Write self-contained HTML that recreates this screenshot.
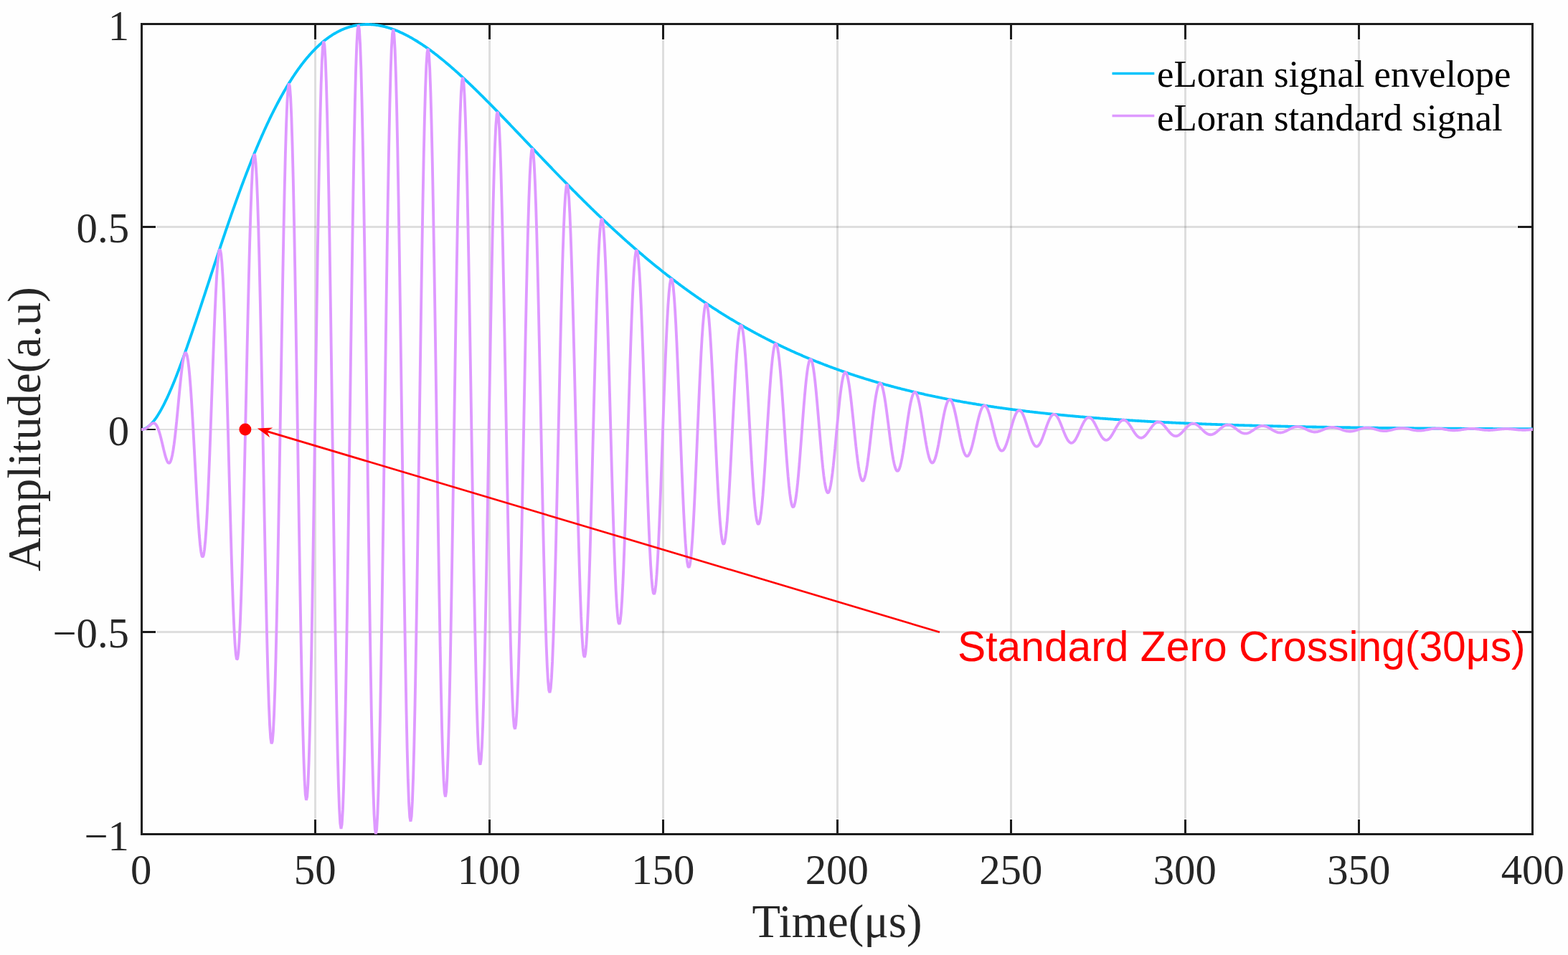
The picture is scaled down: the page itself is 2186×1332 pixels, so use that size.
<!DOCTYPE html>
<html lang="en"><head><meta charset="utf-8"><title>eLoran standard signal</title>
<style>html,body{margin:0;padding:0;background:#fff}body{width:2186px;height:1332px;overflow:hidden}svg{display:block}.s{font-family:"Liberation Serif",serif}.a{font-family:"Liberation Sans",sans-serif}</style></head><body>
<svg width="2186" height="1332" viewBox="0 0 2186 1332">
<rect width="2186" height="1332" fill="#fefefe"/>
<path d="M439.5,56V1142M682.5,56V1142M924.5,56V1142M1167.5,56V1142M1409.5,56V1142M1652.5,56V1142M1894.5,56V1142" stroke="#262626" stroke-opacity="0.15" stroke-width="3.0" fill="none"/>
<path d="M218,316.5H2115" stroke="#262626" stroke-opacity="0.15" stroke-width="3.0" fill="none"/>
<path d="M218,599.0H2115" stroke="#262626" stroke-opacity="0.15" stroke-width="2.0" fill="none"/>
<path d="M218,881.5H2115" stroke="#262626" stroke-opacity="0.15" stroke-width="3.0" fill="none"/>
<path d="M439.5,1143V1163.5M439.5,33.5V55M682.5,1143V1163.5M682.5,33.5V55M924.5,1143V1163.5M924.5,33.5V55M1167.5,1143V1163.5M1167.5,33.5V55M1409.5,1143V1163.5M1409.5,33.5V55M1652.5,1143V1163.5M1652.5,33.5V55M1894.5,1143V1163.5M1894.5,33.5V55" stroke="#1c1c1c" stroke-width="3.0" fill="none"/>
<path d="M197.5,316.5H217M2116,316.5H2136.5" stroke="#1c1c1c" stroke-width="3.0" fill="none"/>
<path d="M197.5,599.0H217M2116,599.0H2136.5" stroke="#1c1c1c" stroke-width="2.0" fill="none"/>
<path d="M197.5,881.5H217M2116,881.5H2136.5" stroke="#1c1c1c" stroke-width="3.0" fill="none"/>
<rect x="197.5" y="33.5" width="1939.0" height="1130.0" fill="none" stroke="#1c1c1c" stroke-width="3.0"/>
<clipPath id="c"><rect x="197" y="32" width="1940" height="1133"/></clipPath>
<g clip-path="url(#c)" fill="none" stroke-width="3.85" stroke-linejoin="bevel" stroke-linecap="butt">
<path d="M194.42,599L196.6,599L197.81,598.94L199.03,598.76L200.24,598.46L201.45,598.04L202.66,597.51L203.88,596.88L205.09,596.13L206.3,595.28L207.51,594.33L208.72,593.28L209.94,592.13L211.15,590.89L212.36,589.56L213.57,588.13L214.79,586.62L216,585.02L217.21,583.34L218.42,581.58L219.64,579.74L220.85,577.82L222.06,575.83L223.27,573.76L224.49,571.63L225.7,569.42L226.91,567.15L228.12,564.82L229.34,562.42L230.55,559.96L231.76,557.45L232.97,554.87L234.19,552.24L235.4,549.56L236.61,546.82L237.82,544.04L239.04,541.2L240.25,538.32L241.46,535.4L242.67,532.43L243.89,529.41L245.1,526.36L246.31,523.27L247.52,520.14L248.74,516.97L249.95,513.77L251.16,510.53L252.38,507.27L253.59,503.97L254.8,500.64L256.01,497.28L257.22,493.9L258.44,490.49L259.65,487.06L260.86,483.61L262.07,480.13L263.29,476.63L264.5,473.11L265.71,469.57L266.92,466.02L268.14,462.45L269.35,458.86L270.56,455.26L271.77,451.65L272.99,448.02L274.2,444.39L275.41,440.74L276.62,437.08L277.84,433.42L279.05,429.75L280.26,426.07L281.48,422.38L282.69,418.69L283.9,415L285.11,411.3L286.32,407.6L287.54,403.9L288.75,400.2L289.96,396.49L291.17,392.79L292.39,389.09L293.6,385.39L294.81,381.7L296.02,378.01L297.24,374.32L298.45,370.64L299.66,366.96L300.88,363.29L302.09,359.62L303.3,355.96L304.51,352.31L305.72,348.67L306.94,345.04L308.15,341.42L309.36,337.8L310.57,334.2L311.79,330.61L313,327.03L314.21,323.46L315.42,319.91L316.64,316.36L317.85,312.83L319.06,309.32L320.27,305.82L321.49,302.33L322.7,298.86L323.91,295.41L325.12,291.97L326.34,288.54L327.55,285.14L328.76,281.75L329.98,278.38L331.19,275.02L332.4,271.69L333.61,268.37L334.82,265.07L336.04,261.79L337.25,258.53L338.46,255.29L339.67,252.06L340.89,248.86L342.1,245.68L343.31,242.52L344.52,239.38L345.74,236.26L346.95,233.17L348.16,230.09L349.38,227.04L350.59,224L351.8,220.99L353.01,218.01L354.23,215.04L355.44,212.1L356.65,209.18L357.86,206.29L359.07,203.41L360.29,200.56L361.5,197.74L362.71,194.93L363.92,192.16L365.14,189.4L366.35,186.67L367.56,183.96L368.77,181.28L369.99,178.62L371.2,175.99L372.41,173.38L373.62,170.8L374.84,168.24L376.05,165.7L377.26,163.19L378.48,160.71L379.69,158.25L380.9,155.81L382.11,153.4L383.32,151.02L384.54,148.66L385.75,146.32L386.96,144.02L388.17,141.73L389.39,139.47L390.6,137.24L391.81,135.03L393.02,132.85L394.24,130.7L395.45,128.57L396.66,126.46L397.88,124.38L399.09,122.33L400.3,120.3L401.51,118.29L402.72,116.31L403.94,114.36L405.15,112.43L406.36,110.53L407.57,108.65L408.79,106.8L410,104.98L411.21,103.17L412.42,101.4L413.64,99.65L414.85,97.92L416.06,96.22L417.27,94.55L418.49,92.9L419.7,91.27L420.91,89.67L422.12,88.09L423.34,86.54L424.55,85.02L425.76,83.51L426.97,82.04L428.19,80.58L429.4,79.16L430.61,77.75L431.82,76.37L433.04,75.02L434.25,73.68L435.46,72.38L436.67,71.09L437.89,69.83L439.1,68.6L440.31,67.39L441.52,66.2L442.74,65.03L443.95,63.89L445.16,62.77L446.38,61.68L447.59,60.61L448.8,59.56L450.01,58.53L451.22,57.53L452.44,56.55L453.65,55.59L454.86,54.65L456.07,53.74L457.29,52.85L458.5,51.98L459.71,51.14L460.92,50.31L462.14,49.51L463.35,48.73L464.56,47.97L465.77,47.23L466.99,46.52L468.2,45.82L469.41,45.15L470.62,44.5L471.84,43.87L473.05,43.26L474.26,42.67L475.48,42.1L476.69,41.55L477.9,41.02L479.11,40.51L480.32,40.03L481.54,39.56L482.75,39.11L483.96,38.68L485.17,38.27L486.39,37.88L487.6,37.51L488.81,37.16L490.02,36.83L491.24,36.52L492.45,36.23L493.66,35.95L494.88,35.7L496.09,35.46L497.3,35.24L498.51,35.04L499.73,34.86L500.94,34.69L502.15,34.55L503.36,34.42L504.57,34.31L505.79,34.21L507,34.14L508.21,34.08L509.42,34.03L510.64,34.01L511.85,34L513.06,34.01L514.27,34.03L515.49,34.07L516.7,34.13L517.91,34.21L519.12,34.3L520.34,34.4L521.55,34.52L522.76,34.66L523.98,34.81L525.19,34.98L526.4,35.17L527.61,35.37L528.82,35.58L530.04,35.81L531.25,36.05L532.46,36.31L533.67,36.58L534.89,36.87L536.1,37.17L537.31,37.49L538.52,37.82L539.74,38.16L540.95,38.52L542.16,38.89L543.38,39.27L544.59,39.67L545.8,40.08L547.01,40.51L548.23,40.95L549.44,41.4L550.65,41.86L551.86,42.34L553.07,42.82L554.29,43.33L555.5,43.84L556.71,44.36L557.92,44.9L559.14,45.45L560.35,46.01L561.56,46.59L562.77,47.17L563.99,47.77L565.2,48.37L566.41,48.99L567.62,49.62L568.84,50.26L570.05,50.91L571.26,51.58L572.48,52.25L573.69,52.93L574.9,53.63L576.11,54.33L577.32,55.05L578.54,55.77L579.75,56.51L580.96,57.25L582.17,58L583.39,58.77L584.6,59.54L585.81,60.32L587.02,61.12L588.24,61.92L589.45,62.73L590.66,63.55L591.88,64.38L593.09,65.21L594.3,66.06L595.51,66.91L596.72,67.77L597.94,68.65L599.15,69.52L600.36,70.41L601.57,71.31L602.79,72.21L604,73.12L605.21,74.04L606.42,74.97L607.64,75.9L608.85,76.84L610.06,77.79L611.27,78.75L612.49,79.71L613.7,80.68L614.91,81.66L616.12,82.64L617.34,83.63L618.55,84.63L619.76,85.63L620.97,86.64L622.19,87.66L623.4,88.68L624.61,89.71L625.82,90.75L627.04,91.79L628.25,92.84L629.46,93.89L630.67,94.95L631.89,96.01L633.1,97.08L634.31,98.16L635.52,99.24L636.74,100.32L637.95,101.41L639.16,102.51L640.38,103.61L641.59,104.72L642.8,105.83L644.01,106.94L645.22,108.06L646.44,109.19L647.65,110.32L648.86,111.45L650.07,112.59L651.29,113.73L652.5,114.88L653.71,116.03L654.92,117.19L656.14,118.34L657.35,119.51L658.56,120.67L659.77,121.84L660.99,123.02L662.2,124.2L663.41,125.38L664.62,126.56L665.84,127.75L667.05,128.94L668.26,130.14L669.47,131.33L670.69,132.53L671.9,133.74L673.11,134.94L674.32,136.15L675.54,137.37L676.75,138.58L677.96,139.8L679.17,141.02L680.39,142.24L681.6,143.47L682.81,144.69L684.02,145.92L685.24,147.16L686.45,148.39L687.66,149.63L688.88,150.87L690.09,152.11L691.3,153.35L692.51,154.59L693.72,155.84L694.94,157.09L696.15,158.34L697.36,159.59L698.57,160.84L699.79,162.1L701,163.35L702.21,164.61L703.42,165.87L704.64,167.13L705.85,168.39L707.06,169.65L708.27,170.92L709.49,172.18L710.7,173.45L711.91,174.71L713.12,175.98L714.34,177.25L715.55,178.52L716.76,179.79L717.98,181.06L719.19,182.33L720.4,183.6L721.61,184.87L722.82,186.15L724.04,187.42L725.25,188.69L726.46,189.97L727.67,191.24L728.89,192.52L730.1,193.79L731.31,195.07L732.52,196.34L733.74,197.62L734.95,198.9L736.16,200.17L737.38,201.45L738.59,202.72L739.8,204L741.01,205.27L742.23,206.55L743.44,207.82L744.65,209.09L745.86,210.37L747.07,211.64L748.29,212.92L749.5,214.19L750.71,215.46L751.92,216.73L753.14,218L754.35,219.27L755.56,220.54L756.77,221.81L757.99,223.08L759.2,224.35L760.41,225.61L761.62,226.88L762.84,228.14L764.05,229.41L765.26,230.67L766.48,231.93L767.69,233.19L768.9,234.45L770.11,235.71L771.32,236.97L772.54,238.23L773.75,239.48L774.96,240.74L776.17,241.99L777.39,243.24L778.6,244.49L779.81,245.74L781.02,246.99L782.24,248.24L783.45,249.48L784.66,250.73L785.88,251.97L787.09,253.21L788.3,254.45L789.51,255.68L790.73,256.92L791.94,258.16L793.15,259.39L794.36,260.62L795.57,261.85L796.79,263.08L798,264.3L799.21,265.53L800.42,266.75L801.64,267.97L802.85,269.19L804.06,270.4L805.27,271.62L806.49,272.83L807.7,274.04L808.91,275.25L810.12,276.46L811.34,277.66L812.55,278.87L813.76,280.07L814.98,281.27L816.19,282.47L817.4,283.66L818.61,284.85L819.82,286.04L821.04,287.23L822.25,288.42L823.46,289.6L824.67,290.79L825.89,291.96L827.1,293.14L828.31,294.32L829.52,295.49L830.74,296.66L831.95,297.83L833.16,299L834.38,300.16L835.59,301.32L836.8,302.48L838.01,303.64L839.23,304.79L840.44,305.94L841.65,307.09L842.86,308.24L844.07,309.38L845.29,310.52L846.5,311.66L847.71,312.8L848.92,313.93L850.14,315.07L851.35,316.2L852.56,317.32L853.77,318.45L854.99,319.57L856.2,320.69L857.41,321.8L858.62,322.92L859.84,324.03L861.05,325.14L862.26,326.24L863.48,327.35L864.69,328.45L865.9,329.54L867.11,330.64L868.32,331.73L869.54,332.82L870.75,333.91L871.96,334.99L873.17,336.07L874.39,337.15L875.6,338.23L876.81,339.3L878.02,340.37L879.24,341.44L880.45,342.5L881.66,343.57L882.88,344.63L884.09,345.68L885.3,346.74L886.51,347.79L887.73,348.84L888.94,349.88L890.15,350.92L891.36,351.96L892.57,353L893.79,354.03L895,355.06L896.21,356.09L897.42,357.12L898.64,358.14L899.85,359.16L901.06,360.17L902.27,361.19L903.49,362.2L904.7,363.21L905.91,364.21L907.12,365.21L908.34,366.21L909.55,367.21L910.76,368.2L911.98,369.19L913.19,370.18L914.4,371.16L915.61,372.14L916.82,373.12L918.04,374.1L919.25,375.07L920.46,376.04L921.67,377.01L922.89,377.97L924.1,378.93L925.31,379.89L926.52,380.84L927.74,381.8L928.95,382.75L930.16,383.69L931.38,384.63L932.59,385.57L933.8,386.51L935.01,387.45L936.23,388.38L937.44,389.3L938.65,390.23L939.86,391.15L941.07,392.07L942.29,392.99L943.5,393.9L944.71,394.81L945.92,395.72L947.14,396.62L948.35,397.52L949.56,398.42L950.77,399.32L951.99,400.21L953.2,401.1L954.41,401.99L955.62,402.87L956.84,403.75L958.05,404.63L959.26,405.5L960.48,406.37L961.69,407.24L962.9,408.11L964.11,408.97L965.32,409.83L966.54,410.69L967.75,411.54L968.96,412.39L970.17,413.24L971.39,414.09L972.6,414.93L973.81,415.77L975.02,416.6L976.24,417.44L977.45,418.27L978.66,419.1L979.88,419.92L981.09,420.74L982.3,421.56L983.51,422.38L984.72,423.19L985.94,424L987.15,424.81L988.36,425.61L989.57,426.41L990.79,427.21L992,428.01L993.21,428.8L994.42,429.59L995.64,430.37L996.85,431.16L998.06,431.94L999.27,432.72L1000.49,433.49L1001.7,434.27L1002.91,435.04L1004.12,435.8L1005.34,436.57L1006.55,437.33L1007.76,438.08L1008.97,438.84L1010.19,439.59L1011.4,440.34L1012.61,441.09L1013.82,441.83L1015.04,442.57L1016.25,443.31L1017.46,444.05L1018.67,444.78L1019.89,445.51L1021.1,446.24L1022.31,446.96L1023.52,447.68L1024.74,448.4L1025.95,449.12L1027.16,449.83L1028.38,450.54L1029.59,451.25L1030.8,451.96L1032.01,452.66L1033.22,453.36L1034.44,454.05L1035.65,454.75L1036.86,455.44L1038.07,456.13L1039.29,456.81L1040.5,457.5L1041.71,458.18L1042.92,458.86L1044.14,459.53L1045.35,460.2L1046.56,460.87L1047.77,461.54L1048.99,462.2L1050.2,462.87L1051.41,463.53L1052.62,464.18L1053.84,464.84L1055.05,465.49L1056.26,466.14L1057.47,466.78L1058.69,467.43L1059.9,468.07L1061.11,468.7L1062.32,469.34L1063.54,469.97L1064.75,470.6L1065.96,471.23L1067.17,471.86L1068.39,472.48L1069.6,473.1L1070.81,473.72L1072.02,474.33L1073.24,474.94L1074.45,475.55L1075.66,476.16L1076.88,476.76L1078.09,477.37L1079.3,477.97L1080.51,478.56L1081.72,479.16L1082.94,479.75L1084.15,480.34L1085.36,480.93L1086.57,481.51L1087.79,482.1L1089,482.68L1090.21,483.25L1091.42,483.83L1092.64,484.4L1093.85,484.97L1095.06,485.54L1096.27,486.1L1097.49,486.67L1098.7,487.23L1099.91,487.79L1101.12,488.34L1102.34,488.89L1103.55,489.45L1104.76,489.99L1105.97,490.54L1107.19,491.08L1108.4,491.63L1109.61,492.17L1110.82,492.7L1112.04,493.24L1113.25,493.77L1114.46,494.3L1115.67,494.83L1116.89,495.35L1118.1,495.87L1119.31,496.4L1120.52,496.91L1121.74,497.43L1122.95,497.94L1124.16,498.46L1125.38,498.97L1126.59,499.47L1127.8,499.98L1129.01,500.48L1130.22,500.98L1131.44,501.48L1132.65,501.97L1133.86,502.47L1135.07,502.96L1136.29,503.45L1137.5,503.94L1138.71,504.42L1139.92,504.91L1141.14,505.39L1142.35,505.86L1143.56,506.34L1144.77,506.82L1145.99,507.29L1147.2,507.76L1148.41,508.23L1149.62,508.69L1150.84,509.16L1152.05,509.62L1153.26,510.08L1154.47,510.54L1155.69,510.99L1156.9,511.44L1158.11,511.9L1159.32,512.34L1160.54,512.79L1161.75,513.24L1162.96,513.68L1164.17,514.12L1165.39,514.56L1166.6,515L1167.81,515.43L1169.02,515.87L1170.24,516.3L1171.45,516.73L1172.66,517.15L1173.88,517.58L1175.09,518L1176.3,518.42L1177.51,518.84L1178.72,519.26L1179.94,519.68L1181.15,520.09L1182.36,520.5L1183.57,520.91L1184.79,521.32L1186,521.73L1187.21,522.13L1188.42,522.53L1189.64,522.93L1190.85,523.33L1192.06,523.73L1193.27,524.12L1194.49,524.51L1195.7,524.91L1196.91,525.29L1198.12,525.68L1199.34,526.07L1200.55,526.45L1201.76,526.83L1202.97,527.21L1204.19,527.59L1205.4,527.97L1206.61,528.34L1207.82,528.72L1209.04,529.09L1210.25,529.46L1211.46,529.82L1212.67,530.19L1213.89,530.55L1215.1,530.92L1216.31,531.28L1217.52,531.64L1218.74,531.99L1219.95,532.35L1221.16,532.7L1222.37,533.06L1223.59,533.41L1224.8,533.76L1226.01,534.1L1227.22,534.45L1228.44,534.79L1229.65,535.13L1230.86,535.47L1232.07,535.81L1233.29,536.15L1234.5,536.49L1235.71,536.82L1236.92,537.15L1238.14,537.48L1239.35,537.81L1240.56,538.14L1241.77,538.47L1242.99,538.79L1244.2,539.11L1245.41,539.43L1246.62,539.75L1247.84,540.07L1249.05,540.39L1250.26,540.7L1251.47,541.02L1252.69,541.33L1253.9,541.64L1255.11,541.95L1256.32,542.26L1257.54,542.56L1258.75,542.87L1259.96,543.17L1261.17,543.47L1262.39,543.77L1263.6,544.07L1264.81,544.37L1266.02,544.66L1267.24,544.96L1268.45,545.25L1269.66,545.54L1270.87,545.83L1272.09,546.12L1273.3,546.4L1274.51,546.69L1275.72,546.97L1276.94,547.26L1278.15,547.54L1279.36,547.82L1280.57,548.1L1281.79,548.37L1283,548.65L1284.21,548.92L1285.42,549.2L1286.64,549.47L1287.85,549.74L1289.06,550.01L1290.27,550.27L1291.49,550.54L1292.7,550.8L1293.91,551.07L1295.12,551.33L1296.34,551.59L1297.55,551.85L1298.76,552.11L1299.97,552.36L1301.19,552.62L1302.4,552.87L1303.61,553.13L1304.82,553.38L1306.04,553.63L1307.25,553.88L1308.46,554.13L1309.67,554.37L1310.89,554.62L1312.1,554.86L1313.31,555.11L1314.52,555.35L1315.74,555.59L1316.95,555.83L1318.16,556.07L1319.37,556.3L1320.59,556.54L1321.8,556.77L1323.01,557.01L1324.22,557.24L1325.44,557.47L1326.65,557.7L1327.86,557.93L1329.07,558.15L1330.29,558.38L1331.5,558.61L1332.71,558.83L1333.92,559.05L1335.14,559.27L1336.35,559.49L1337.56,559.71L1338.77,559.93L1339.99,560.15L1341.2,560.36L1342.41,560.58L1343.62,560.79L1344.84,561.01L1346.05,561.22L1347.26,561.43L1348.47,561.64L1349.69,561.84L1350.9,562.05L1352.11,562.26L1353.32,562.46L1354.54,562.67L1355.75,562.87L1356.96,563.07L1358.17,563.27L1359.39,563.47L1360.6,563.67L1361.81,563.87L1363.02,564.06L1364.24,564.26L1365.45,564.46L1366.66,564.65L1367.87,564.84L1369.09,565.03L1370.3,565.22L1371.51,565.41L1372.72,565.6L1373.94,565.79L1375.15,565.98L1376.36,566.16L1377.57,566.35L1378.79,566.53L1380,566.71L1381.21,566.89L1382.42,567.07L1383.64,567.25L1384.85,567.43L1386.06,567.61L1387.27,567.79L1388.49,567.96L1389.7,568.14L1390.91,568.31L1392.12,568.49L1393.34,568.66L1394.55,568.83L1395.76,569L1396.97,569.17L1398.19,569.34L1399.4,569.51L1400.61,569.67L1401.82,569.84L1403.04,570.01L1404.25,570.17L1405.46,570.33L1406.67,570.5L1407.89,570.66L1409.1,570.82L1410.31,570.98L1411.52,571.14L1412.74,571.3L1413.95,571.45L1415.16,571.61L1416.37,571.77L1417.59,571.92L1418.8,572.07L1420.01,572.23L1421.22,572.38L1422.44,572.53L1423.65,572.68L1424.86,572.83L1426.07,572.98L1427.29,573.13L1428.5,573.28L1429.71,573.43L1430.92,573.57L1432.14,573.72L1433.35,573.86L1434.56,574L1435.77,574.15L1436.99,574.29L1438.2,574.43L1439.41,574.57L1440.62,574.71L1441.84,574.85L1443.05,574.99L1444.26,575.13L1445.47,575.26L1446.69,575.4L1447.9,575.54L1449.11,575.67L1450.32,575.8L1451.54,575.94L1452.75,576.07L1453.96,576.2L1455.17,576.33L1456.39,576.46L1457.6,576.59L1458.81,576.72L1460.02,576.85L1461.24,576.98L1462.45,577.1L1463.66,577.23L1464.87,577.36L1466.09,577.48L1467.3,577.6L1468.51,577.73L1469.72,577.85L1470.94,577.97L1472.15,578.09L1473.36,578.21L1474.57,578.33L1475.79,578.45L1477,578.57L1478.21,578.69L1479.42,578.81L1480.64,578.93L1481.85,579.04L1483.06,579.16L1484.27,579.27L1485.49,579.39L1486.7,579.5L1487.91,579.61L1489.12,579.73L1490.34,579.84L1491.55,579.95L1492.76,580.06L1493.97,580.17L1495.19,580.28L1496.4,580.39L1497.61,580.49L1498.82,580.6L1500.04,580.71L1501.25,580.82L1502.46,580.92L1503.67,581.03L1504.89,581.13L1506.1,581.24L1507.31,581.34L1508.52,581.44L1509.74,581.54L1510.95,581.65L1512.16,581.75L1513.37,581.85L1514.59,581.95L1515.8,582.05L1517.01,582.15L1518.22,582.24L1519.44,582.34L1520.65,582.44L1521.86,582.54L1523.07,582.63L1524.29,582.73L1525.5,582.82L1526.71,582.92L1527.92,583.01L1529.14,583.11L1530.35,583.2L1531.56,583.29L1532.77,583.38L1533.99,583.48L1535.2,583.57L1536.41,583.66L1537.62,583.75L1538.84,583.84L1540.05,583.93L1541.26,584.01L1542.47,584.1L1543.69,584.19L1544.9,584.28L1546.11,584.36L1547.32,584.45L1548.54,584.53L1549.75,584.62L1550.96,584.7L1552.17,584.79L1553.39,584.87L1554.6,584.96L1555.81,585.04L1557.02,585.12L1558.24,585.2L1559.45,585.28L1560.66,585.36L1561.87,585.44L1563.09,585.52L1564.3,585.6L1565.51,585.68L1566.72,585.76L1567.94,585.84L1569.15,585.92L1570.36,586L1571.57,586.07L1572.79,586.15L1574,586.22L1575.21,586.3L1576.42,586.38L1577.64,586.45L1578.85,586.52L1580.06,586.6L1581.27,586.67L1582.49,586.74L1583.7,586.82L1584.91,586.89L1586.12,586.96L1587.34,587.03L1588.55,587.1L1589.76,587.17L1590.97,587.24L1592.19,587.31L1593.4,587.38L1594.61,587.45L1595.82,587.52L1597.04,587.59L1598.25,587.66L1599.46,587.72L1600.67,587.79L1601.89,587.86L1603.1,587.92L1604.31,587.99L1605.52,588.06L1606.74,588.12L1607.95,588.19L1609.16,588.25L1610.37,588.31L1611.59,588.38L1612.8,588.44L1614.01,588.5L1615.22,588.57L1616.44,588.63L1617.65,588.69L1618.86,588.75L1620.07,588.81L1621.29,588.87L1622.5,588.94L1623.71,589L1624.92,589.05L1626.14,589.11L1627.35,589.17L1628.56,589.23L1629.77,589.29L1630.99,589.35L1632.2,589.41L1633.41,589.46L1634.62,589.52L1635.84,589.58L1637.05,589.63L1638.26,589.69L1639.47,589.75L1640.69,589.8L1641.9,589.86L1643.11,589.91L1644.32,589.97L1645.54,590.02L1646.75,590.07L1647.96,590.13L1649.17,590.18L1650.39,590.23L1651.6,590.29L1652.81,590.34L1654.02,590.39L1655.24,590.44L1656.45,590.49L1657.66,590.55L1658.87,590.6L1660.09,590.65L1661.3,590.7L1662.51,590.75L1663.72,590.8L1664.94,590.85L1666.15,590.9L1667.36,590.94L1668.57,590.99L1669.79,591.04L1671,591.09L1672.21,591.14L1673.42,591.18L1674.64,591.23L1675.85,591.28L1677.06,591.32L1678.27,591.37L1679.49,591.42L1680.7,591.46L1681.91,591.51L1683.12,591.55L1684.34,591.6L1685.55,591.64L1686.76,591.69L1687.97,591.73L1689.19,591.78L1690.4,591.82L1691.61,591.86L1692.82,591.91L1694.04,591.95L1695.25,591.99L1696.46,592.03L1697.67,592.08L1698.89,592.12L1700.1,592.16L1701.31,592.2L1702.52,592.24L1703.74,592.28L1704.95,592.32L1706.16,592.37L1707.37,592.41L1708.59,592.45L1709.8,592.49L1711.01,592.52L1712.22,592.56L1713.44,592.6L1714.65,592.64L1715.86,592.68L1717.07,592.72L1718.29,592.76L1719.5,592.8L1720.71,592.83L1721.92,592.87L1723.14,592.91L1724.35,592.94L1725.56,592.98L1726.77,593.02L1727.99,593.05L1729.2,593.09L1730.41,593.13L1731.62,593.16L1732.84,593.2L1734.05,593.23L1735.26,593.27L1736.47,593.3L1737.69,593.34L1738.9,593.37L1740.11,593.41L1741.32,593.44L1742.54,593.48L1743.75,593.51L1744.96,593.54L1746.17,593.58L1747.39,593.61L1748.6,593.64L1749.81,593.68L1751.02,593.71L1752.24,593.74L1753.45,593.77L1754.66,593.8L1755.87,593.84L1757.09,593.87L1758.3,593.9L1759.51,593.93L1760.72,593.96L1761.94,593.99L1763.15,594.02L1764.36,594.05L1765.57,594.08L1766.79,594.11L1768,594.14L1769.21,594.17L1770.42,594.2L1771.64,594.23L1772.85,594.26L1774.06,594.29L1775.27,594.32L1776.49,594.35L1777.7,594.38L1778.91,594.41L1780.12,594.43L1781.34,594.46L1782.55,594.49L1783.76,594.52L1784.97,594.54L1786.19,594.57L1787.4,594.6L1788.61,594.63L1789.82,594.65L1791.04,594.68L1792.25,594.71L1793.46,594.73L1794.67,594.76L1795.89,594.79L1797.1,594.81L1798.31,594.84L1799.52,594.86L1800.74,594.89L1801.95,594.91L1803.16,594.94L1804.37,594.96L1805.59,594.99L1806.8,595.01L1808.01,595.04L1809.22,595.06L1810.44,595.09L1811.65,595.11L1812.86,595.13L1814.07,595.16L1815.29,595.18L1816.5,595.21L1817.71,595.23L1818.92,595.25L1820.14,595.28L1821.35,595.3L1822.56,595.32L1823.77,595.34L1824.99,595.37L1826.2,595.39L1827.41,595.41L1828.62,595.43L1829.84,595.46L1831.05,595.48L1832.26,595.5L1833.47,595.52L1834.69,595.54L1835.9,595.56L1837.11,595.59L1838.32,595.61L1839.54,595.63L1840.75,595.65L1841.96,595.67L1843.17,595.69L1844.39,595.71L1845.6,595.73L1846.81,595.75L1848.02,595.77L1849.24,595.79L1850.45,595.81L1851.66,595.83L1852.87,595.85L1854.09,595.87L1855.3,595.89L1856.51,595.91L1857.72,595.93L1858.94,595.95L1860.15,595.97L1861.36,595.99L1862.57,596L1863.79,596.02L1865,596.04L1866.21,596.06L1867.42,596.08L1868.64,596.1L1869.85,596.11L1871.06,596.13L1872.27,596.15L1873.49,596.17L1874.7,596.19L1875.91,596.2L1877.12,596.22L1878.34,596.24L1879.55,596.26L1880.76,596.27L1881.97,596.29L1883.19,596.31L1884.4,596.32L1885.61,596.34L1886.82,596.36L1888.04,596.37L1889.25,596.39L1890.46,596.41L1891.67,596.42L1892.89,596.44L1894.1,596.45L1895.31,596.47L1896.52,596.49L1897.74,596.5L1898.95,596.52L1900.16,596.53L1901.37,596.55L1902.59,596.56L1903.8,596.58L1905.01,596.59L1906.22,596.61L1907.44,596.62L1908.65,596.64L1909.86,596.65L1911.07,596.67L1912.29,596.68L1913.5,596.7L1914.71,596.71L1915.92,596.73L1917.14,596.74L1918.35,596.75L1919.56,596.77L1920.77,596.78L1921.99,596.8L1923.2,596.81L1924.41,596.82L1925.62,596.84L1926.84,596.85L1928.05,596.86L1929.26,596.88L1930.47,596.89L1931.69,596.9L1932.9,596.92L1934.11,596.93L1935.32,596.94L1936.54,596.96L1937.75,596.97L1938.96,596.98L1940.17,596.99L1941.39,597.01L1942.6,597.02L1943.81,597.03L1945.02,597.04L1946.24,597.06L1947.45,597.07L1948.66,597.08L1949.87,597.09L1951.09,597.11L1952.3,597.12L1953.51,597.13L1954.72,597.14L1955.94,597.15L1957.15,597.16L1958.36,597.18L1959.57,597.19L1960.79,597.2L1962,597.21L1963.21,597.22L1964.42,597.23L1965.64,597.24L1966.85,597.25L1968.06,597.27L1969.27,597.28L1970.49,597.29L1971.7,597.3L1972.91,597.31L1974.12,597.32L1975.34,597.33L1976.55,597.34L1977.76,597.35L1978.97,597.36L1980.19,597.37L1981.4,597.38L1982.61,597.39L1983.82,597.4L1985.04,597.41L1986.25,597.42L1987.46,597.43L1988.67,597.44L1989.89,597.45L1991.1,597.46L1992.31,597.47L1993.52,597.48L1994.74,597.49L1995.95,597.5L1997.16,597.51L1998.37,597.52L1999.59,597.53L2000.8,597.54L2002.01,597.55L2003.22,597.56L2004.44,597.57L2005.65,597.57L2006.86,597.58L2008.07,597.59L2009.29,597.6L2010.5,597.61L2011.71,597.62L2012.92,597.63L2014.14,597.64L2015.35,597.65L2016.56,597.65L2017.77,597.66L2018.99,597.67L2020.2,597.68L2021.41,597.69L2022.62,597.7L2023.84,597.7L2025.05,597.71L2026.26,597.72L2027.47,597.73L2028.69,597.74L2029.9,597.75L2031.11,597.75L2032.32,597.76L2033.54,597.77L2034.75,597.78L2035.96,597.78L2037.17,597.79L2038.39,597.8L2039.6,597.81L2040.81,597.82L2042.02,597.82L2043.24,597.83L2044.45,597.84L2045.66,597.84L2046.87,597.85L2048.09,597.86L2049.3,597.87L2050.51,597.87L2051.72,597.88L2052.94,597.89L2054.15,597.9L2055.36,597.9L2056.57,597.91L2057.79,597.92L2059,597.92L2060.21,597.93L2061.42,597.94L2062.64,597.94L2063.85,597.95L2065.06,597.96L2066.28,597.96L2067.49,597.97L2068.7,597.98L2069.91,597.98L2071.12,597.99L2072.34,598L2073.55,598L2074.76,598.01L2075.97,598.02L2077.19,598.02L2078.4,598.03L2079.61,598.03L2080.82,598.04L2082.04,598.05L2083.25,598.05L2084.46,598.06L2085.67,598.06L2086.89,598.07L2088.1,598.08L2089.31,598.08L2090.53,598.09L2091.74,598.09L2092.95,598.1L2094.16,598.11L2095.38,598.11L2096.59,598.12L2097.8,598.12L2099.01,598.13L2100.22,598.13L2101.44,598.14L2102.65,598.14L2103.86,598.15L2105.07,598.16L2106.29,598.16L2107.5,598.17L2108.71,598.17L2109.92,598.18L2111.14,598.18L2112.35,598.19L2113.56,598.19L2114.78,598.2L2115.99,598.2L2117.2,598.21L2118.41,598.21L2119.62,598.22L2120.84,598.22L2122.05,598.23L2123.26,598.23L2124.47,598.24L2125.69,598.24L2126.9,598.25L2128.11,598.25L2129.32,598.26L2130.54,598.26L2131.75,598.27L2132.96,598.27L2134.17,598.28L2135.39,598.28L2136.6,598.29L2138.78,598.29" stroke="#00c4fc"/>
<path d="M194.42,599L196.6,599L197.81,598.99L199.03,598.92L200.24,598.75L201.45,598.44L202.66,597.95L203.88,597.28L205.09,596.45L206.3,595.47L207.51,594.39L208.72,593.28L209.94,592.22L211.15,591.29L212.36,590.59L213.57,590.21L214.79,590.25L216,590.78L217.21,591.89L218.42,593.62L219.64,595.99L220.85,599L222.06,602.62L223.27,606.8L224.49,611.43L225.7,616.38L226.91,621.52L228.12,626.65L229.34,631.59L230.55,636.13L231.76,640.04L232.97,643.13L234.19,645.18L235.4,646.02L236.61,645.49L237.82,643.47L239.04,639.87L240.25,634.67L241.46,627.88L242.67,619.57L243.89,609.89L245.1,599L246.31,587.15L247.52,574.63L248.74,561.76L249.95,548.9L251.16,536.44L252.38,524.79L253.59,514.33L254.8,505.45L256.01,498.54L257.22,493.9L258.44,491.83L259.65,492.54L260.86,496.18L262.07,502.83L263.29,512.47L264.5,525L265.71,540.24L266.92,557.91L268.14,577.64L269.35,599L270.56,621.49L271.77,644.53L272.99,667.54L274.2,689.88L275.41,710.91L276.62,729.99L277.84,746.53L279.05,759.97L280.26,769.8L281.48,775.62L282.69,777.09L283.9,774L285.11,766.24L286.32,753.85L287.54,736.96L288.75,715.85L289.96,690.94L291.17,662.72L292.39,631.84L293.6,599L294.81,565.01L296.02,530.71L297.24,497L298.45,464.77L299.66,434.92L300.88,408.3L302.09,385.71L303.3,367.86L304.51,355.35L305.72,348.67L306.94,348.17L308.15,354.02L309.36,366.27L310.57,384.77L311.79,409.22L313,439.14L314.21,473.91L315.42,512.75L316.64,554.79L317.85,599L319.06,644.32L320.27,689.6L321.49,733.68L322.7,775.42L323.91,813.67L325.12,847.4L326.34,875.62L327.55,897.5L328.76,912.35L329.98,919.62L331.19,918.99L332.4,910.29L333.61,893.6L334.82,869.16L336.04,837.44L337.25,799.12L338.46,755.04L339.67,706.21L340.89,653.77L342.1,599L343.31,543.23L344.52,487.87L345.74,434.32L346.95,383.97L348.16,338.14L349.38,298.08L350.59,264.88L351.8,239.5L353.01,222.7L354.23,215.04L355.44,216.86L356.65,228.26L357.86,249.09L359.07,278.96L360.29,317.26L361.5,363.14L362.71,415.56L363.92,473.28L365.14,534.92L366.35,599L367.56,663.93L368.77,728.08L369.99,789.85L371.2,847.64L372.41,899.96L373.62,945.42L374.84,982.81L376.05,1011.09L377.26,1029.44L378.48,1037.29L379.69,1034.33L380.9,1020.5L382.11,996.03L383.32,961.42L384.54,917.44L385.75,865.08L386.96,805.56L388.17,740.3L389.39,670.89L390.6,599L391.81,526.42L393.02,454.95L394.24,386.39L395.45,322.49L396.66,264.86L397.88,215.02L399.09,174.28L400.3,143.73L401.51,124.21L402.72,116.31L403.94,120.33L405.15,136.25L406.36,163.77L407.57,202.3L408.79,250.96L410,308.62L411.21,373.9L412.42,445.23L413.64,520.88L414.85,599L416.06,677.65L417.27,754.88L418.49,828.77L419.7,897.44L420.91,959.15L422.12,1012.33L423.34,1055.6L424.55,1087.83L425.76,1108.14L426.97,1115.96L428.19,1111.03L429.4,1093.4L430.61,1063.44L431.82,1021.82L433.04,969.51L434.25,907.77L435.46,838.08L436.67,762.13L437.89,681.78L439.1,599L440.31,515.84L441.52,434.35L442.74,356.58L443.95,284.47L445.16,219.83L446.38,164.3L447.59,119.29L448.8,85.96L450.01,65.18L451.22,57.53L452.44,63.23L453.65,82.19L454.86,113.98L456.07,157.88L457.29,212.81L458.5,277.47L459.71,350.28L460.92,429.45L462.14,513.04L463.35,599L464.56,685.2L465.77,769.51L466.99,849.82L468.2,924.15L469.41,990.63L470.62,1047.6L471.84,1093.63L473.05,1127.54L474.26,1148.48L475.48,1155.9L476.69,1149.59L477.9,1129.67L479.11,1096.62L480.32,1051.22L481.54,994.59L482.75,928.1L483.96,853.38L485.17,772.27L486.39,686.78L487.6,599L488.81,511.11L490.02,425.28L491.24,343.64L492.45,268.21L493.66,200.87L494.88,143.28L496.09,96.88L497.3,62.83L498.51,41.98L499.73,34.86L500.94,41.64L502.15,62.17L503.36,95.95L504.57,142.15L505.79,199.63L507,266.98L508.21,342.53L509.42,424.42L510.64,510.62L511.85,599L513.06,687.38L514.27,773.58L515.49,855.47L516.7,931.02L517.91,998.37L519.12,1055.85L520.34,1102.06L521.55,1135.85L522.76,1156.39L523.98,1163.19L525.19,1156.07L526.4,1135.24L527.61,1101.2L528.82,1054.82L530.04,997.24L531.25,929.89L532.46,854.46L533.67,772.8L534.89,686.94L536.1,599L537.31,511.16L538.52,425.59L539.74,344.38L540.95,269.56L542.16,202.94L543.38,146.17L544.59,100.64L545.8,67.44L547.01,47.38L548.23,40.95L549.44,48.26L550.65,69.13L551.86,103.01L553.07,149.04L554.29,206.08L555.5,272.68L556.71,347.2L557.92,427.77L559.14,512.41L560.35,599L561.56,685.42L562.77,769.52L563.99,849.25L565.2,922.65L566.41,987.91L567.62,1043.46L568.84,1087.93L570.05,1120.26L571.26,1139.68L572.48,1145.75L573.69,1138.34L574.9,1117.68L576.11,1084.3L577.32,1039.07L578.54,983.12L579.75,917.87L580.96,844.95L582.17,766.18L583.39,683.51L584.6,599L585.81,514.73L587.02,432.78L588.24,355.17L589.45,283.79L590.66,220.38L591.88,166.48L593.09,123.39L594.3,92.14L595.51,73.46L596.72,67.77L597.94,75.18L599.15,95.44L600.36,128.02L601.57,172.09L602.79,226.5L604,289.9L605.21,360.67L606.42,437.06L607.64,517.17L608.85,599L610.06,680.54L611.27,759.77L612.49,834.75L613.7,903.66L614.91,964.82L616.12,1016.74L617.34,1058.2L618.55,1088.2L619.76,1106.05L620.97,1111.36L622.19,1104.04L623.4,1084.34L624.61,1052.78L625.82,1010.19L627.04,957.65L628.25,896.52L629.46,828.32L630.67,754.76L631.89,677.68L633.1,599L634.31,520.65L635.52,444.56L636.74,372.6L637.95,306.53L639.16,247.93L640.38,198.22L641.59,158.59L642.8,129.97L644.01,113L645.22,108.06L646.44,115.22L647.65,134.24L648.86,164.59L650.07,205.49L651.29,255.86L652.5,314.44L653.71,379.74L654.92,450.11L656.14,523.81L657.35,599L658.56,673.83L659.77,746.45L660.99,815.09L662.2,878.08L663.41,933.9L664.62,981.21L665.84,1018.89L667.05,1046.05L668.26,1062.09L669.47,1066.67L670.69,1059.72L671.9,1041.49L673.11,1012.48L674.32,973.45L675.54,925.42L676.75,869.63L677.96,807.47L679.17,740.52L680.39,670.45L681.6,599L682.81,527.93L684.02,458.99L685.24,393.87L686.45,334.14L687.66,281.25L688.88,236.45L690.09,200.82L691.3,175.16L692.51,160.07L693.72,155.84L694.94,162.53L696.15,179.91L697.36,207.48L698.57,244.52L699.79,290.06L701,342.93L702.21,401.79L703.42,465.16L704.64,531.44L705.85,599L707.06,666.16L708.27,731.29L709.49,792.77L710.7,849.13L711.91,899.02L713.12,941.23L714.34,974.78L715.55,998.9L716.76,1013.05L717.98,1016.94L719.19,1010.54L720.4,994.07L721.61,967.99L722.82,933L724.04,890.03L725.25,840.17L726.46,784.7L727.67,725L728.89,662.59L730.1,599L731.31,535.81L732.52,474.57L733.74,416.78L734.95,363.82L736.16,316.98L737.38,277.37L738.59,245.91L739.8,223.33L741.01,210.12L742.23,206.55L743.44,212.64L744.65,228.18L745.86,252.73L747.07,285.62L748.29,326L749.5,372.81L750.71,424.88L751.92,480.87L753.14,539.4L754.35,599L755.56,658.2L756.77,715.56L757.99,769.66L759.2,819.22L760.41,863.02L761.62,900.05L762.84,929.43L764.05,950.5L765.26,962.79L766.48,966.07L767.69,960.3L768.9,945.7L770.11,922.69L771.32,891.89L772.54,854.1L773.75,810.32L774.96,761.65L776.17,709.32L777.39,654.65L778.6,599L779.81,543.74L781.02,490.22L782.24,439.76L783.45,393.56L784.66,352.73L785.88,318.24L787.09,290.9L788.3,271.31L789.51,259.91L790.73,256.92L791.94,262.35L793.15,276.01L794.36,297.5L795.57,326.24L796.79,361.47L798,402.27L799.21,447.61L800.42,496.33L801.64,547.22L802.85,599L804.06,650.4L805.27,700.17L806.49,747.08L807.7,790L808.91,827.92L810.12,859.94L811.34,885.31L812.55,903.46L813.76,914L814.98,916.73L816.19,911.64L817.4,898.91L818.61,878.91L819.82,852.19L821.04,819.45L822.25,781.56L823.46,739.46L824.67,694.24L825.89,647.03L827.1,599L828.31,551.34L829.52,505.21L830.74,461.74L831.95,421.98L833.16,386.86L834.38,357.23L835.59,333.77L836.8,316.99L838.01,307.27L839.23,304.79L840.44,309.55L841.65,321.38L842.86,339.93L844.07,364.69L845.29,395.02L846.5,430.11L847.71,469.07L848.92,510.91L850.14,554.58L851.35,599L852.56,643.06L853.77,685.7L854.99,725.86L856.2,762.59L857.41,795.01L858.62,822.36L859.84,844L861.05,859.46L862.26,868.4L863.48,870.65L864.69,866.22L865.9,855.27L867.11,838.11L868.32,815.22L869.54,787.22L870.75,754.82L871.96,718.86L873.17,680.25L874.39,639.96L875.6,599L876.81,558.37L878.02,519.08L879.24,482.07L880.45,448.24L881.66,418.38L882.88,393.21L884.09,373.29L885.3,359.08L886.51,350.88L887.73,348.84L888.94,352.95L890.15,363.06L891.36,378.89L892.57,399.98L893.79,425.78L895,455.62L896.21,488.72L897.42,524.25L898.64,561.32L899.85,599L901.06,636.36L902.27,672.49L903.49,706.51L904.7,737.6L905.91,765.02L907.12,788.14L908.34,806.42L909.55,819.45L910.76,826.96L911.98,828.81L913.19,825L914.4,815.69L915.61,801.13L916.82,781.74L918.04,758.03L919.25,730.62L920.46,700.22L921.67,667.6L922.89,633.58L924.1,599L925.31,564.72L926.52,531.59L927.74,500.39L928.95,471.89L930.16,446.75L931.38,425.57L932.59,408.84L933.8,396.91L935.01,390.05L936.23,388.38L937.44,391.89L938.65,400.45L939.86,413.81L941.07,431.59L942.29,453.33L943.5,478.45L944.71,506.3L945.92,536.18L947.14,567.34L948.35,599L949.56,630.38L950.77,660.71L951.99,689.25L953.2,715.32L954.41,738.31L955.62,757.67L956.84,772.97L958.05,783.86L959.26,790.12L960.48,791.63L961.69,788.4L962.9,780.55L964.11,768.32L965.32,752.04L966.54,732.16L967.75,709.18L968.96,683.72L970.17,656.4L971.39,627.93L972.6,599L973.81,570.34L975.02,542.64L976.24,516.57L977.45,492.77L978.66,471.79L979.88,454.12L981.09,440.17L982.3,430.25L983.51,424.55L984.72,423.19L985.94,426.15L987.15,433.33L988.36,444.51L989.57,459.37L990.79,477.53L992,498.49L993.21,521.73L994.42,546.65L995.64,572.62L996.85,599L998.06,625.13L999.27,650.38L1000.49,674.14L1001.7,695.83L1002.91,714.94L1004.12,731.03L1005.34,743.73L1006.55,752.76L1007.76,757.93L1008.97,759.16L1010.19,756.44L1011.4,749.89L1012.61,739.7L1013.82,726.15L1015.04,709.61L1016.25,690.51L1017.46,669.35L1018.67,646.66L1019.89,623.01L1021.1,599L1022.31,575.22L1023.52,552.24L1024.74,530.63L1025.95,510.9L1027.16,493.52L1028.38,478.9L1029.59,467.35L1030.8,459.15L1032.01,454.46L1033.22,453.36L1034.44,455.84L1035.65,461.81L1036.86,471.09L1038.07,483.41L1039.29,498.46L1040.5,515.83L1041.71,535.07L1042.92,555.69L1044.14,577.18L1045.35,599L1046.56,620.61L1047.77,641.48L1048.99,661.1L1050.2,679.02L1051.41,694.79L1052.62,708.07L1053.84,718.54L1055.05,725.98L1056.26,730.23L1057.47,731.22L1058.69,728.96L1059.9,723.53L1061.11,715.09L1062.32,703.9L1063.54,690.24L1064.75,674.47L1065.96,657.01L1067.17,638.29L1068.39,618.79L1069.6,599L1070.81,579.4L1072.02,560.47L1073.24,542.68L1074.45,526.44L1075.66,512.14L1076.88,500.11L1078.09,490.62L1079.3,483.89L1080.51,480.05L1081.72,479.16L1082.94,481.22L1084.15,486.15L1085.36,493.8L1086.57,503.95L1087.79,516.34L1089,530.63L1090.21,546.45L1091.42,563.41L1092.64,581.07L1093.85,599L1095.06,616.75L1096.27,633.89L1097.49,650L1098.7,664.7L1099.91,677.64L1101.12,688.52L1102.34,697.1L1103.55,703.19L1104.76,706.66L1105.97,707.46L1107.19,705.59L1108.4,701.12L1109.61,694.19L1110.82,685L1112.04,673.79L1113.25,660.85L1114.46,646.53L1115.67,631.19L1116.89,615.21L1118.1,599L1119.31,582.95L1120.52,567.45L1121.74,552.89L1122.95,539.6L1124.16,527.9L1125.38,518.07L1126.59,510.32L1127.8,504.82L1129.01,501.69L1130.22,500.98L1131.44,502.68L1132.65,506.72L1133.86,512.99L1135.07,521.3L1136.29,531.44L1137.5,543.12L1138.71,556.06L1139.92,569.92L1141.14,584.36L1142.35,599L1143.56,613.49L1144.77,627.49L1145.99,640.64L1147.2,652.63L1148.41,663.19L1149.62,672.06L1150.84,679.05L1152.05,684.01L1153.26,686.83L1154.47,687.46L1155.69,685.93L1156.9,682.27L1158.11,676.61L1159.32,669.11L1160.54,659.96L1161.75,649.41L1162.96,637.73L1164.17,625.23L1165.39,612.21L1166.6,599L1167.81,585.93L1169.02,573.31L1170.24,561.45L1171.45,550.64L1172.66,541.13L1173.88,533.13L1175.09,526.83L1176.3,522.37L1177.51,519.83L1178.72,519.26L1179.94,520.65L1181.15,523.95L1182.36,529.06L1183.57,535.82L1184.79,544.07L1186,553.58L1187.21,564.1L1188.42,575.37L1189.64,587.1L1190.85,599L1192.06,610.78L1193.27,622.14L1194.49,632.82L1195.7,642.55L1196.91,651.12L1198.12,658.32L1199.34,663.98L1200.55,668L1201.76,670.28L1202.97,670.79L1204.19,669.53L1205.4,666.56L1206.61,661.96L1207.82,655.86L1209.04,648.44L1210.25,639.88L1211.46,630.41L1212.67,620.26L1213.89,609.71L1215.1,599L1216.31,588.41L1217.52,578.18L1218.74,568.58L1219.95,559.82L1221.16,552.12L1222.37,545.65L1223.59,540.56L1224.8,536.95L1226.01,534.9L1227.22,534.45L1228.44,535.58L1229.65,538.26L1230.86,542.4L1232.07,547.88L1233.29,554.56L1234.5,562.26L1235.71,570.77L1236.92,579.89L1238.14,589.38L1239.35,599L1240.56,608.52L1241.77,617.71L1242.99,626.33L1244.2,634.2L1245.41,641.12L1246.62,646.93L1247.84,651.5L1249.05,654.74L1250.26,656.58L1251.47,656.98L1252.69,655.96L1253.9,653.55L1255.11,649.83L1256.32,644.91L1257.54,638.91L1258.75,631.99L1259.96,624.35L1261.17,616.16L1262.39,607.64L1263.6,599L1264.81,590.45L1266.02,582.21L1267.24,574.46L1268.45,567.41L1269.66,561.2L1270.87,555.98L1272.09,551.88L1273.3,548.98L1274.51,547.33L1275.72,546.97L1276.94,547.89L1278.15,550.06L1279.36,553.4L1280.57,557.82L1281.79,563.2L1283,569.4L1284.21,576.27L1285.42,583.61L1286.64,591.25L1287.85,599L1289.06,606.66L1290.27,614.06L1291.49,621L1292.7,627.33L1293.91,632.89L1295.12,637.57L1296.34,641.24L1297.55,643.84L1298.76,645.31L1299.97,645.64L1301.19,644.81L1302.4,642.87L1303.61,639.87L1304.82,635.91L1306.04,631.08L1307.25,625.52L1308.46,619.37L1309.67,612.79L1310.89,605.94L1312.1,599L1313.31,592.13L1314.52,585.51L1315.74,579.29L1316.95,573.62L1318.16,568.64L1319.37,564.46L1320.59,561.17L1321.8,558.84L1323.01,557.52L1324.22,557.24L1325.44,557.98L1326.65,559.72L1327.86,562.4L1329.07,565.96L1330.29,570.28L1331.5,575.26L1332.71,580.76L1333.92,586.66L1335.14,592.79L1336.35,599L1337.56,605.15L1338.77,611.07L1339.99,616.64L1341.2,621.71L1342.41,626.17L1343.62,629.91L1344.84,632.85L1346.05,634.93L1347.26,636.11L1348.47,636.36L1349.69,635.7L1350.9,634.14L1352.11,631.74L1353.32,628.56L1354.54,624.69L1355.75,620.24L1356.96,615.31L1358.17,610.04L1359.39,604.56L1360.6,599L1361.81,593.5L1363.02,588.2L1364.24,583.23L1365.45,578.7L1366.66,574.71L1367.87,571.36L1369.09,568.73L1370.3,566.88L1371.51,565.83L1372.72,565.6L1373.94,566.2L1375.15,567.59L1376.36,569.74L1377.57,572.58L1378.79,576.04L1380,580.02L1381.21,584.42L1382.42,589.13L1383.64,594.03L1384.85,599L1386.06,603.91L1387.27,608.65L1388.49,613.09L1389.7,617.14L1390.91,620.7L1392.12,623.69L1393.34,626.03L1394.55,627.69L1395.76,628.63L1396.97,628.83L1398.19,628.3L1399.4,627.05L1400.61,625.13L1401.82,622.59L1403.04,619.5L1404.25,615.95L1405.46,612.01L1406.67,607.81L1407.89,603.43L1409.1,599L1410.31,594.62L1411.52,590.39L1412.74,586.42L1413.95,582.81L1415.16,579.63L1416.37,576.97L1417.59,574.87L1418.8,573.39L1420.01,572.56L1421.22,572.38L1422.44,572.86L1423.65,573.97L1424.86,575.69L1426.07,577.95L1427.29,580.71L1428.5,583.88L1429.71,587.39L1430.92,591.14L1432.14,595.04L1433.35,599L1434.56,602.91L1435.77,606.68L1436.99,610.22L1438.2,613.44L1439.41,616.27L1440.62,618.65L1441.84,620.52L1443.05,621.84L1444.26,622.58L1445.47,622.74L1446.69,622.31L1447.9,621.32L1449.11,619.79L1450.32,617.77L1451.54,615.31L1452.75,612.48L1453.96,609.35L1455.17,606L1456.39,602.53L1457.6,599L1458.81,595.51L1460.02,592.16L1461.24,589L1462.45,586.13L1463.66,583.61L1464.87,581.49L1466.09,579.83L1467.3,578.65L1468.51,577.99L1469.72,577.85L1470.94,578.23L1472.15,579.12L1473.36,580.48L1474.57,582.28L1475.79,584.47L1477,586.99L1478.21,589.78L1479.42,592.76L1480.64,595.86L1481.85,599L1483.06,602.1L1484.27,605.1L1485.49,607.9L1486.7,610.46L1487.91,612.71L1489.12,614.59L1490.34,616.07L1491.55,617.12L1492.76,617.71L1493.97,617.83L1495.19,617.49L1496.4,616.7L1497.61,615.49L1498.82,613.88L1500.04,611.93L1501.25,609.69L1502.46,607.21L1503.67,604.55L1504.89,601.8L1506.1,599L1507.31,596.24L1508.52,593.57L1509.74,591.08L1510.95,588.8L1512.16,586.8L1513.37,585.12L1514.59,583.81L1515.8,582.88L1517.01,582.35L1518.22,582.24L1519.44,582.55L1520.65,583.25L1521.86,584.33L1523.07,585.76L1524.29,587.49L1525.5,589.49L1526.71,591.7L1527.92,594.06L1529.14,596.51L1530.35,599L1531.56,601.46L1532.77,603.83L1533.99,606.05L1535.2,608.07L1536.41,609.85L1537.62,611.34L1538.84,612.51L1540.05,613.34L1541.26,613.8L1542.47,613.9L1543.69,613.63L1544.9,613L1546.11,612.04L1547.32,610.77L1548.54,609.23L1549.75,607.45L1550.96,605.49L1552.17,603.39L1553.39,601.21L1554.6,599L1555.81,596.82L1557.02,594.71L1558.24,592.74L1559.45,590.94L1560.66,589.36L1561.87,588.03L1563.09,586.99L1564.3,586.26L1565.51,585.85L1566.72,585.76L1567.94,586L1569.15,586.56L1570.36,587.41L1571.57,588.54L1572.79,589.91L1574,591.49L1575.21,593.23L1576.42,595.1L1577.64,597.04L1578.85,599L1580.06,600.94L1581.27,602.81L1582.49,604.56L1583.7,606.16L1584.91,607.56L1586.12,608.74L1587.34,609.66L1588.55,610.31L1589.76,610.68L1590.97,610.76L1592.19,610.54L1593.4,610.05L1594.61,609.29L1595.82,608.29L1597.04,607.07L1598.25,605.67L1599.46,604.12L1600.67,602.46L1601.89,600.74L1603.1,599L1604.31,597.28L1605.52,595.62L1606.74,594.06L1607.95,592.64L1609.16,591.4L1610.37,590.36L1611.59,589.54L1612.8,588.96L1614.01,588.63L1615.22,588.57L1616.44,588.76L1617.65,589.2L1618.86,589.87L1620.07,590.76L1621.29,591.84L1622.5,593.08L1623.71,594.46L1624.92,595.93L1626.14,597.45L1627.35,599L1628.56,600.53L1629.77,602L1630.99,603.38L1632.2,604.64L1633.41,605.74L1634.62,606.67L1635.84,607.4L1637.05,607.91L1638.26,608.19L1639.47,608.25L1640.69,608.09L1641.9,607.7L1643.11,607.1L1644.32,606.31L1645.54,605.35L1646.75,604.25L1647.96,603.03L1649.17,601.73L1650.39,600.37L1651.6,599L1652.81,597.65L1654.02,596.34L1655.24,595.12L1656.45,594L1657.66,593.02L1658.87,592.2L1660.09,591.56L1661.3,591.1L1662.51,590.85L1663.72,590.8L1664.94,590.95L1666.15,591.29L1667.36,591.82L1668.57,592.52L1669.79,593.37L1671,594.35L1672.21,595.43L1673.42,596.58L1674.64,597.78L1675.85,599L1677.06,600.2L1678.27,601.36L1679.49,602.44L1680.7,603.43L1681.91,604.3L1683.12,605.02L1684.34,605.59L1685.55,606L1686.76,606.22L1687.97,606.27L1689.19,606.13L1690.4,605.83L1691.61,605.36L1692.82,604.74L1694.04,603.99L1695.25,603.12L1696.46,602.16L1697.67,601.14L1698.89,600.08L1700.1,599L1701.31,597.94L1702.52,596.91L1703.74,595.95L1704.95,595.08L1706.16,594.31L1707.37,593.66L1708.59,593.16L1709.8,592.8L1711.01,592.6L1712.22,592.56L1713.44,592.68L1714.65,592.95L1715.86,593.37L1717.07,593.92L1718.29,594.59L1719.5,595.35L1720.71,596.2L1721.92,597.11L1723.14,598.05L1724.35,599L1725.56,599.94L1726.77,600.85L1727.99,601.7L1729.2,602.47L1730.41,603.15L1731.62,603.72L1732.84,604.17L1734.05,604.48L1735.26,604.66L1736.47,604.7L1737.69,604.59L1738.9,604.35L1740.11,603.98L1741.32,603.5L1742.54,602.91L1743.75,602.23L1744.96,601.48L1746.17,600.68L1747.39,599.84L1748.6,599L1749.81,598.17L1751.02,597.36L1752.24,596.61L1753.45,595.93L1754.66,595.33L1755.87,594.82L1757.09,594.43L1758.3,594.15L1759.51,593.99L1760.72,593.96L1761.94,594.05L1763.15,594.27L1764.36,594.59L1765.57,595.02L1766.79,595.54L1768,596.15L1769.21,596.81L1770.42,597.52L1771.64,598.25L1772.85,599L1774.06,599.74L1775.27,600.45L1776.49,601.11L1777.7,601.72L1778.91,602.25L1780.12,602.69L1781.34,603.04L1782.55,603.29L1783.76,603.43L1784.97,603.46L1786.19,603.37L1787.4,603.19L1788.61,602.9L1789.82,602.52L1791.04,602.05L1792.25,601.52L1793.46,600.94L1794.67,600.31L1795.89,599.66L1797.1,599L1798.31,598.35L1799.52,597.72L1800.74,597.13L1801.95,596.6L1803.16,596.13L1804.37,595.73L1805.59,595.43L1806.8,595.21L1808.01,595.09L1809.22,595.06L1810.44,595.13L1811.65,595.3L1812.86,595.56L1814.07,595.89L1815.29,596.3L1816.5,596.77L1817.71,597.29L1818.92,597.84L1820.14,598.42L1821.35,599L1822.56,599.58L1823.77,600.13L1824.99,600.65L1826.2,601.12L1827.41,601.54L1828.62,601.88L1829.84,602.16L1831.05,602.35L1832.26,602.46L1833.47,602.48L1834.69,602.41L1835.9,602.27L1837.11,602.04L1838.32,601.74L1839.54,601.38L1840.75,600.97L1841.96,600.51L1843.17,600.02L1844.39,599.51L1845.6,599L1846.81,598.49L1848.02,598L1849.24,597.54L1850.45,597.13L1851.66,596.76L1852.87,596.45L1854.09,596.21L1855.3,596.04L1856.51,595.95L1857.72,595.93L1858.94,595.99L1860.15,596.12L1861.36,596.31L1862.57,596.58L1863.79,596.89L1865,597.26L1866.21,597.67L1867.42,598.1L1868.64,598.55L1869.85,599L1871.06,599.45L1872.27,599.88L1873.49,600.29L1874.7,600.65L1875.91,600.98L1877.12,601.25L1878.34,601.46L1879.55,601.61L1880.76,601.69L1881.97,601.71L1883.19,601.66L1884.4,601.55L1885.61,601.37L1886.82,601.14L1888.04,600.86L1889.25,600.53L1890.46,600.18L1891.67,599.8L1892.89,599.4L1894.1,599L1895.31,598.6L1896.52,598.22L1897.74,597.87L1898.95,597.54L1900.16,597.25L1901.37,597.02L1902.59,596.83L1903.8,596.7L1905.01,596.62L1906.22,596.61L1907.44,596.65L1908.65,596.75L1909.86,596.91L1911.07,597.11L1912.29,597.36L1913.5,597.65L1914.71,597.96L1915.92,598.3L1917.14,598.65L1918.35,599L1919.56,599.35L1920.77,599.69L1921.99,600L1923.2,600.29L1924.41,600.54L1925.62,600.75L1926.84,600.92L1928.05,601.03L1929.26,601.1L1930.47,601.11L1931.69,601.07L1932.9,600.98L1934.11,600.84L1935.32,600.66L1936.54,600.45L1937.75,600.19L1938.96,599.92L1940.17,599.62L1941.39,599.31L1942.6,599L1943.81,598.69L1945.02,598.4L1946.24,598.12L1947.45,597.86L1948.66,597.64L1949.87,597.46L1951.09,597.31L1952.3,597.21L1953.51,597.15L1954.72,597.14L1955.94,597.18L1957.15,597.25L1958.36,597.37L1959.57,597.53L1960.79,597.73L1962,597.95L1963.21,598.19L1964.42,598.45L1965.64,598.73L1966.85,599L1968.06,599.27L1969.27,599.53L1970.49,599.78L1971.7,600L1972.91,600.2L1974.12,600.36L1975.34,600.49L1976.55,600.58L1977.76,600.63L1978.97,600.64L1980.19,600.61L1981.4,600.54L1982.61,600.43L1983.82,600.29L1985.04,600.12L1986.25,599.93L1987.46,599.71L1988.67,599.48L1989.89,599.24L1991.1,599L1992.31,598.76L1993.52,598.53L1994.74,598.31L1995.95,598.12L1997.16,597.95L1998.37,597.8L1999.59,597.69L2000.8,597.61L2002.01,597.57L2003.22,597.56L2004.44,597.58L2005.65,597.64L2006.86,597.74L2008.07,597.86L2009.29,598.01L2010.5,598.18L2011.71,598.37L2012.92,598.58L2014.14,598.79L2015.35,599L2016.56,599.21L2017.77,599.41L2018.99,599.6L2020.2,599.78L2021.41,599.93L2022.62,600.05L2023.84,600.15L2025.05,600.22L2026.26,600.26L2027.47,600.27L2028.69,600.25L2029.9,600.19L2031.11,600.11L2032.32,600L2033.54,599.87L2034.75,599.72L2035.96,599.55L2037.17,599.37L2038.39,599.19L2039.6,599L2040.81,598.81L2042.02,598.64L2043.24,598.47L2044.45,598.32L2045.66,598.18L2046.87,598.07L2048.09,597.98L2049.3,597.92L2050.51,597.89L2051.72,597.88L2052.94,597.9L2054.15,597.95L2055.36,598.02L2056.57,598.12L2057.79,598.23L2059,598.37L2060.21,598.51L2061.42,598.67L2062.64,598.83L2063.85,599L2065.06,599.16L2066.28,599.32L2067.49,599.47L2068.7,599.6L2069.91,599.72L2071.12,599.82L2072.34,599.89L2073.55,599.95L2074.76,599.98L2075.97,599.98L2077.19,599.97L2078.4,599.92L2079.61,599.86L2080.82,599.78L2082.04,599.67L2083.25,599.56L2084.46,599.43L2085.67,599.29L2086.89,599.15L2088.1,599L2089.31,598.86L2090.53,598.72L2091.74,598.59L2092.95,598.47L2094.16,598.37L2095.38,598.28L2096.59,598.21L2097.8,598.17L2099.01,598.14L2100.22,598.13L2101.44,598.15L2102.65,598.19L2103.86,598.24L2105.07,598.32L2106.29,598.41L2107.5,598.51L2108.71,598.62L2109.92,598.75L2111.14,598.87L2112.35,599L2113.56,599.13L2114.78,599.25L2115.99,599.36L2117.2,599.47L2118.41,599.56L2119.62,599.63L2120.84,599.69L2122.05,599.73L2123.26,599.76L2124.47,599.76L2125.69,599.75L2126.9,599.72L2128.11,599.67L2129.32,599.6L2130.54,599.52L2131.75,599.43L2132.96,599.33L2134.17,599.22L2135.39,599.11L2136.6,599L2138.78,599" stroke="#de99ff"/>
</g>
<circle cx="341.9" cy="599" r="8.5" fill="#ff0000"/>
<path d="M372.21,601.61L1310.00,881.80" stroke="#ff0000" stroke-width="2.7" fill="none"/>
<path d="M358.80,597.60L376.22,610.21L372.21,601.61L380.28,596.61Z" fill="#ff0000"/>
<g class="s" font-size="58.75" fill="#262626">
<text x="196.70" y="1233.0" text-anchor="middle">0</text>
<text x="439.20" y="1233.0" text-anchor="middle">50</text>
<text x="681.70" y="1233.0" text-anchor="middle">100</text>
<text x="924.20" y="1233.0" text-anchor="middle">150</text>
<text x="1166.70" y="1233.0" text-anchor="middle">200</text>
<text x="1409.20" y="1233.0" text-anchor="middle">250</text>
<text x="1651.70" y="1233.0" text-anchor="middle">300</text>
<text x="1894.20" y="1233.0" text-anchor="middle">350</text>
<text x="2136.70" y="1233.0" text-anchor="middle">400</text>
<text x="180.0" y="55.50" text-anchor="end">1</text>
<text x="180.0" y="338.00" text-anchor="end">0.5</text>
<text x="180.0" y="620.50" text-anchor="end">0</text>
<text x="180.0" y="903.00" text-anchor="end">−0.5</text>
<text x="180.0" y="1185.50" text-anchor="end">−1</text>
</g>
<g class="s" font-size="64.65" fill="#262626">
<text x="1167.00" y="1307.0" text-anchor="middle">Time(μs)</text>
<text transform="translate(56.0,598.50) rotate(-90)" text-anchor="middle">Amplitude(a.u)</text>
</g>
<path d="M1550.5,102.5H1609.3" stroke="#00c4fc" stroke-width="3.7"/>
<path d="M1550.5,161.5H1609.3" stroke="#de99ff" stroke-width="3.7"/>
<g class="s" font-size="52.9" fill="#000">
<text x="1613.0" y="121.0">eLoran signal envelope</text>
<text x="1613.0" y="182.0">eLoran standard signal</text>
</g>
<text class="a" font-size="58.78" fill="#ff0000" x="1335.0" y="922.0">Standard Zero Crossing(30μs)</text>
</svg></body></html>
